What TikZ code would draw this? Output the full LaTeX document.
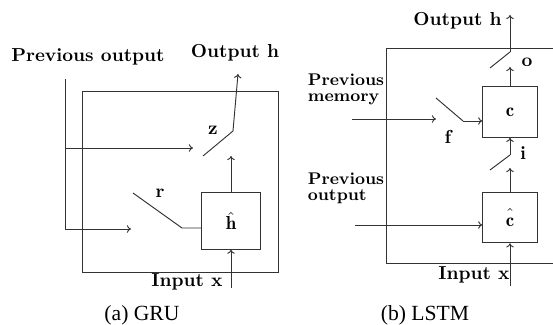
\documentclass[tikz,border=0pt]{standalone}
\usepackage{amsmath}
\usepackage{amssymb}
\usepackage{fontspec}
\newfontfamily\capfont{Liberation Serif}
\usepackage{tikz}
\usetikzlibrary{arrows.meta,positioning}

\tikzset{
    wire/.style = {draw=black!80, line width=0.5pt},
    arr/.style = {wire, -{To[length=2.2pt,width=4pt]}},
    gatebox/.style = {draw=black!80, line width=0.5pt, minimum width=29pt, minimum height=27pt, inner sep=0pt},
    lbl/.style = {font=\bfseries, inner sep=0pt},
    sidelbl/.style = {font=\bfseries\fontsize{9}{8.5}\selectfont, align=left, inner sep=0pt},
    captext/.style = {font=\capfont\fontsize{11.5}{12}\selectfont, inner sep=0pt}
}

\begin{document}
\begin{tikzpicture}[x=0.532pt, y=-0.532pt]
            \useasboundingbox (0,0) rectangle (553,325);
            \clip (0,0) rectangle (553,325);
            % GRU
            \draw [wire] (82,91) rectangle (278,272);
            \node [gatebox, minimum width=31pt, minimum height=30pt] (hh) at (231,221) {$\hat{\mathbf{h}}$};
            \node [lbl, anchor=base] (prevout) at (88,62) {Previous output};
            \node [lbl, anchor=base] (outh) at (235,58) {Output h};
            \node [lbl, anchor=base] (inx) at (187,287) {Input x};
            \node [lbl] (z) at (213,130) {z};
            \node [lbl] (r) at (160,193) {r};
            \coordinate (pv1) at (65,79);
            \coordinate (pv2) at (65,148);
            \coordinate (ra) at (131,229);
            \coordinate (za) at (193,148);
            \coordinate (z0) at (203,156);
            \coordinate (z1) at (233,131);
            \coordinate (zout) at (238,74);
            \coordinate (r0) at (133,193);
            \coordinate (r1) at (182,228);
            \coordinate (gin) at (231,288);
            \draw [arr] (pv1) |- (ra);
            \draw [arr] (pv2) -- (za);
            \draw [wire] (z0) -- (z1);
            \draw [arr] (z1) -- (zout);
            \draw [arr] (hh.north) -- (hh.north |- z0);
            \draw [wire] (r0) -- (r1) -- (r1 -| hh.west);
            \draw [arr] (gin) -- (hh.south);
            \node [captext] (capa) at (142,315) {(a) GRU};
            % LSTM
            \draw [wire] (386,48) rectangle (600,263);
            \node [gatebox] (cm) at (510,112) {$\mathbf{c}$};
            \node [gatebox] (ch) at (510,217.5) {$\hat{\mathbf{c}\vphantom{\mathbf{h}}}$};
            \node [lbl, anchor=base] (outh2) at (457.5,26) {Output h};
            \node [lbl, anchor=base] (inx2) at (474,280) {Input x};
            \node [sidelbl] (prevmem) at (346,89) {Previous\\memory};
            \node [sidelbl] (prevout2) at (346,188) {Previous\\output};
            \node [lbl] (o) at (527,62) {o};
            \node [lbl] (i) at (523,153) {i};
            \node [lbl] (f) at (448,137) {f};
            \coordinate (o0) at (490,68);
            \coordinate (o1) at (510,52);
            \coordinate (oout) at (510,15);
            \coordinate (i0) at (490,170);
            \coordinate (i1) at (510,155);
            \coordinate (m0) at (352,119);
            \coordinate (m1) at (436,119);
            \coordinate (f0) at (436,98);
            \coordinate (f1) at (463,121);
            \coordinate (po0) at (355,225);
            \coordinate (lin) at (510,286);
            \draw [wire] (o0) -- (o1);
            \draw [arr] (o1) -- (oout);
            \draw [arr] (cm.north) -- (cm.north |- 0,67);
            \draw [wire] (i0) -- (i1);
            \draw [arr] (i1) -- (cm.south);
            \draw [arr] (ch.north) -- (ch.north |- 0,168);
            \draw [arr] (m0) -- (m1);
            \draw [wire] (f0) -- (f1);
            \draw [arr] (f1) -- (f1 -| cm.west);
            \draw [arr] (po0) -- (po0 -| ch.west);
            \draw [arr] (lin) -- (ch.south);
            \node [captext] (capb) at (425,315) {(b) LSTM};
\end{tikzpicture}
\end{document}
